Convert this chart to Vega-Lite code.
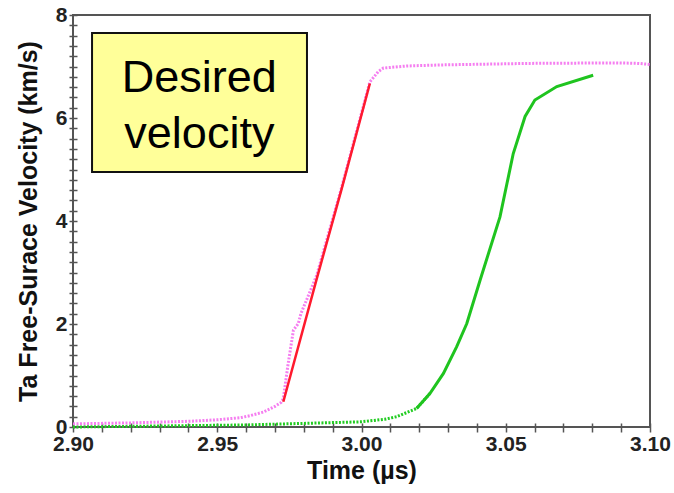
{
  "$schema": "https://vega.github.io/schema/vega-lite/v6.json",
  "width": 577,
  "height": 412,
  "autosize": "none",
  "padding": {"left": 73, "top": 15, "right": 24, "bottom": 66},
  "config": {
    "font": "Liberation Sans",
    "view": {"stroke": "#555555", "strokeWidth": 2},
    "axis": {"domain": false, "grid": false, "tickColor": "#555555", "tickWidth": 1.5}
  },
  "data": {"values": [
    {"series": "pink", "t": 2.900, "v": 0.06},
    {"series": "pink", "t": 2.920, "v": 0.08},
    {"series": "pink", "t": 2.940, "v": 0.11},
    {"series": "pink", "t": 2.950, "v": 0.14},
    {"series": "pink", "t": 2.958, "v": 0.18},
    {"series": "pink", "t": 2.9614, "v": 0.22},
    {"series": "pink", "t": 2.966, "v": 0.29},
    {"series": "pink", "t": 2.970, "v": 0.40},
    {"series": "pink", "t": 2.9722, "v": 0.48},
    {"series": "pink", "t": 2.9729, "v": 0.55},
    {"series": "pink", "t": 2.9745, "v": 1.2},
    {"series": "pink", "t": 2.9764, "v": 1.88},
    {"series": "pink", "t": 2.9781, "v": 2.01},
    {"series": "pink", "t": 2.9790, "v": 2.2},
    {"series": "pink", "t": 2.9845, "v": 2.95},
    {"series": "pink", "t": 2.9931, "v": 4.65},
    {"series": "pink", "t": 3.0029, "v": 6.70},
    {"series": "pink", "t": 3.0058, "v": 6.90},
    {"series": "pink", "t": 3.0076, "v": 6.97},
    {"series": "pink", "t": 3.0157, "v": 7.01},
    {"series": "pink", "t": 3.0272, "v": 7.03},
    {"series": "pink", "t": 3.0574, "v": 7.06},
    {"series": "pink", "t": 3.0889, "v": 7.07},
    {"series": "pink", "t": 3.0960, "v": 7.06},
    {"series": "pink", "t": 3.1000, "v": 7.04},
    {"series": "red", "t": 2.9729, "v": 0.49},
    {"series": "red", "t": 2.9845, "v": 2.88},
    {"series": "red", "t": 2.9931, "v": 4.62},
    {"series": "red", "t": 3.0029, "v": 6.67},
    {"series": "greendot", "t": 2.900, "v": 0.00},
    {"series": "greendot", "t": 2.930, "v": 0.02},
    {"series": "greendot", "t": 2.960, "v": 0.04},
    {"series": "greendot", "t": 2.980, "v": 0.07},
    {"series": "greendot", "t": 2.9995, "v": 0.10},
    {"series": "greendot", "t": 3.008, "v": 0.15},
    {"series": "greendot", "t": 3.0122, "v": 0.20},
    {"series": "greendot", "t": 3.0191, "v": 0.36},
    {"series": "greendot", "t": 3.0237, "v": 0.65},
    {"series": "green", "t": 3.0191, "v": 0.36},
    {"series": "green", "t": 3.0237, "v": 0.65},
    {"series": "green", "t": 3.0284, "v": 1.04},
    {"series": "green", "t": 3.0330, "v": 1.56},
    {"series": "green", "t": 3.0365, "v": 2.01},
    {"series": "green", "t": 3.0411, "v": 2.85},
    {"series": "green", "t": 3.0480, "v": 4.08},
    {"series": "green", "t": 3.0526, "v": 5.31},
    {"series": "green", "t": 3.0567, "v": 6.03},
    {"series": "green", "t": 3.0601, "v": 6.35},
    {"series": "green", "t": 3.0677, "v": 6.61},
    {"series": "green", "t": 3.0803, "v": 6.83},
    {"series": "box", "t": 2.9066, "t2": 2.9811, "v": 7.65, "v2": 4.95},
    {"series": "label", "text": "Desired", "t": 2.9438, "v": 6.51},
    {"series": "label", "text": "velocity", "t": 2.9438, "v": 5.41}
  ]},
  "layer": [
    {
      "transform": [{"filter": "datum.series == 'pink'"}],
      "mark": {"type": "line", "color": "#f57ef0", "strokeWidth": 3, "strokeDash": [2, 1.5]},
      "encoding": {
        "x": {"field": "t", "type": "quantitative", "scale": {"domain": [2.9, 3.1], "nice": false, "zero": false},
          "title": "Time (µs)",
          "axis": {"orient": "bottom",
            "values": [2.90, 2.91, 2.92, 2.93, 2.94, 2.95, 2.96, 2.97, 2.98, 2.99, 3.00, 3.01, 3.02, 3.03, 3.04, 3.05, 3.06, 3.07, 3.08, 3.09, 3.10],
            "labelExpr": "abs(datum.value*20 - round(datum.value*20)) < 0.001 ? format(datum.value, '.2f') : ''",
            "labelOverlap": false, "labelFlush": false,
            "tickSize": 5, "labelPadding": 1, "titlePadding": 4,
            "labelFont": "Liberation Sans", "labelFontWeight": "bold", "labelFontSize": 21, "labelColor": "#222222",
            "titleFont": "Liberation Sans", "titleFontWeight": "bold", "titleFontSize": 25, "titleColor": "#111111"}},
        "y": {"field": "v", "type": "quantitative", "scale": {"domain": [0, 8], "nice": false},
          "title": "Ta Free-Surace Velocity (km/s)",
          "axis": {"orient": "left",
            "values": [0, 0.2, 0.4, 0.6, 0.8, 1, 1.2, 1.4, 1.6, 1.8, 2, 2.2, 2.4, 2.6, 2.8, 3, 3.2, 3.4, 3.6, 3.8, 4, 4.2, 4.4, 4.6, 4.8, 5, 5.2, 5.4, 5.6, 5.8, 6, 6.2, 6.4, 6.6, 6.8, 7, 7.2, 7.4, 7.6, 7.8, 8],
            "labelExpr": "abs(datum.value/2 - round(datum.value/2)) < 0.001 ? format(datum.value, 'd') : ''",
            "labelOverlap": false, "labelFlush": false,
            "tickSize": 4, "labelPadding": 2, "titlePadding": 14,
            "labelFont": "Liberation Sans", "labelFontWeight": "bold", "labelFontSize": 21, "labelColor": "#222222",
            "titleFont": "Liberation Sans", "titleFontWeight": "bold", "titleFontSize": 25, "titleColor": "#111111"}}
      }
    },
    {
      "transform": [{"filter": "datum.series == 'greendot'"}],
      "mark": {"type": "line", "color": "#22cc22", "strokeWidth": 3, "strokeDash": [2, 1.5]},
      "encoding": {
        "x": {"field": "t", "type": "quantitative", "title": null,
          "axis": {"orient": "top", "offset": -412,
            "values": [2.90, 2.91, 2.92, 2.93, 2.94, 2.95, 2.96, 2.97, 2.98, 2.99, 3.00, 3.01, 3.02, 3.03, 3.04, 3.05, 3.06, 3.07, 3.08, 3.09, 3.10],
            "labels": false, "tickSize": 4}},
        "y": {"field": "v", "type": "quantitative", "title": null,
          "axis": {"orient": "right", "offset": -577,
            "values": [0, 0.2, 0.4, 0.6, 0.8, 1, 1.2, 1.4, 1.6, 1.8, 2, 2.2, 2.4, 2.6, 2.8, 3, 3.2, 3.4, 3.6, 3.8, 4, 4.2, 4.4, 4.6, 4.8, 5, 5.2, 5.4, 5.6, 5.8, 6, 6.2, 6.4, 6.6, 6.8, 7, 7.2, 7.4, 7.6, 7.8, 8],
            "labels": false, "tickSize": 4}}
      }
    },
    {
      "transform": [{"filter": "datum.series == 'green'"}],
      "mark": {"type": "line", "color": "#1fc41f", "strokeWidth": 3},
      "encoding": {
        "x": {"field": "t", "type": "quantitative", "axis": null},
        "y": {"field": "v", "type": "quantitative", "axis": null}
      }
    },
    {
      "transform": [{"filter": "datum.series == 'red'"}],
      "mark": {"type": "line", "color": "#ff1a2e", "strokeWidth": 2.5},
      "encoding": {
        "x": {"field": "t", "type": "quantitative", "axis": null},
        "y": {"field": "v", "type": "quantitative", "axis": null}
      }
    },
    {
      "transform": [{"filter": "datum.series == 'box'"}],
      "mark": {"type": "rect", "fill": "#ffff99", "stroke": "#111111", "strokeWidth": 2},
      "encoding": {
        "x": {"field": "t", "type": "quantitative", "axis": null},
        "x2": {"field": "t2"},
        "y": {"field": "v", "type": "quantitative", "axis": null},
        "y2": {"field": "v2"}
      }
    },
    {
      "transform": [{"filter": "datum.series == 'label'"}],
      "mark": {"type": "text", "font": "Liberation Sans", "fontSize": 45, "color": "#000000", "align": "center", "baseline": "alphabetic"},
      "encoding": {
        "x": {"field": "t", "type": "quantitative", "axis": null},
        "y": {"field": "v", "type": "quantitative", "axis": null},
        "text": {"field": "text"}
      }
    }
  ],
  "resolve": {"axis": {"x": "independent", "y": "independent"}}
}
